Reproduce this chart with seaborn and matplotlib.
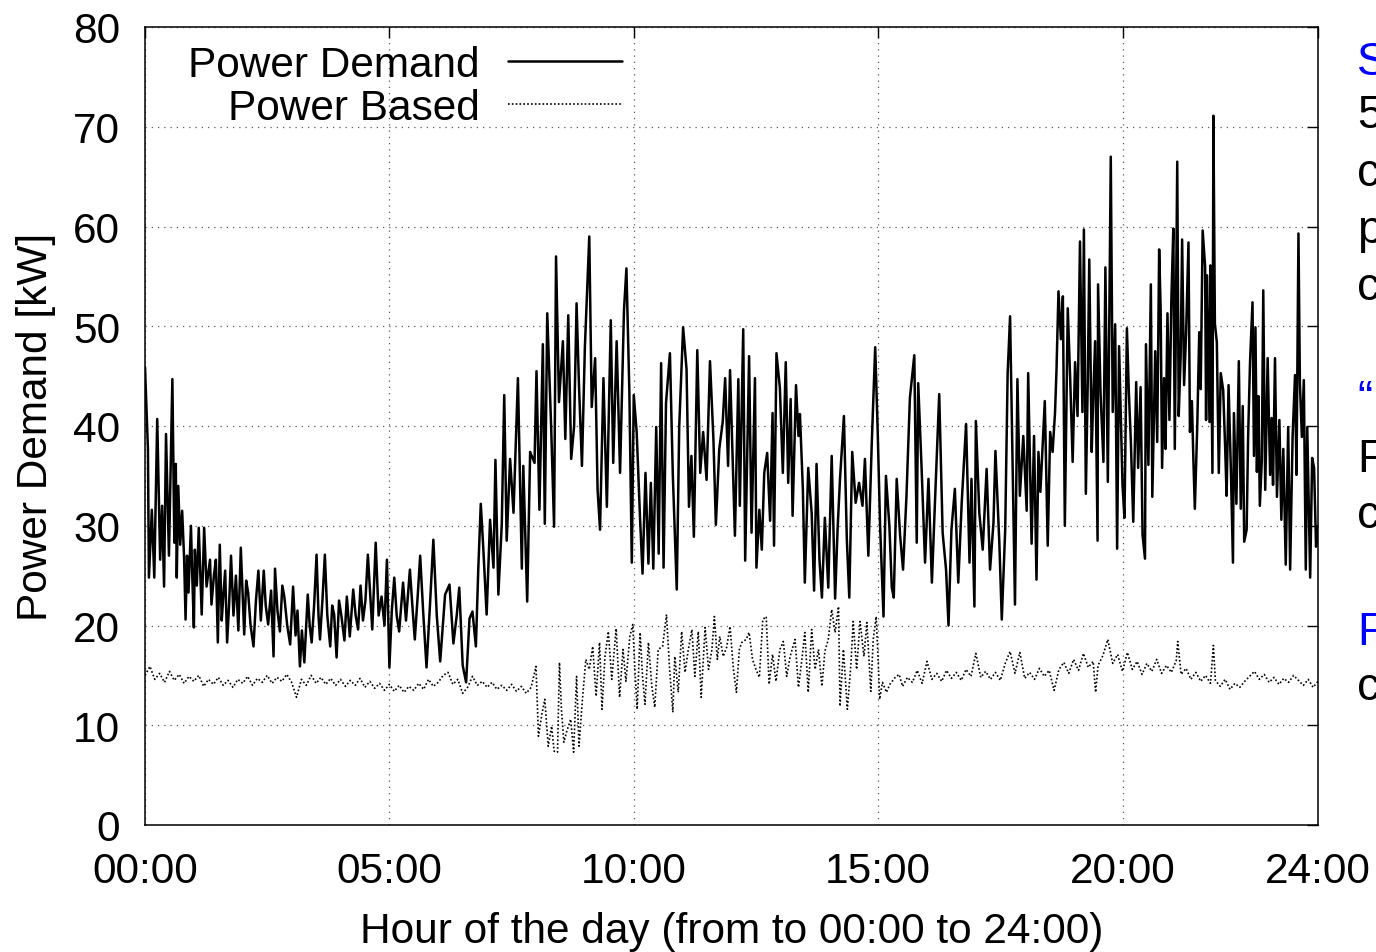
import matplotlib
matplotlib.use("Agg")
import matplotlib.pyplot as plt
import seaborn as sns
import pandas as pd

# ---------------- data ----------------
x_tick_hours = [0, 5, 10, 15, 20, 24]
x_tick_labels = ["00:00", "05:00", "10:00", "15:00", "20:00", "24:00"]
y_ticks = [0, 10, 20, 30, 40, 50, 60, 70, 80]

# Power Demand [kW] : (hour, kW)
demand_00_06 = [
    (0.00, 45.9), (0.06, 37.7), (0.08, 24.8), (0.14, 31.6), (0.19, 24.8), (0.25, 40.7),
    (0.31, 26.6), (0.35, 32.0), (0.39, 23.9), (0.43, 39.2), (0.49, 27.0), (0.53, 36.8),
    (0.56, 44.7), (0.60, 28.3), (0.63, 36.2), (0.65, 24.8), (0.68, 34.0), (0.72, 28.1),
    (0.76, 31.5), (0.80, 26.8), (0.83, 20.6), (0.86, 27.0), (0.89, 23.3), (0.94, 30.0),
    (0.97, 24.5), (1.00, 19.8), (1.02, 27.6), (1.06, 24.0), (1.10, 29.8), (1.16, 21.1),
    (1.21, 29.8), (1.26, 23.9), (1.33, 26.6), (1.36, 22.1), (1.41, 25.0), (1.45, 26.6),
    (1.49, 18.3), (1.53, 28.1), (1.57, 20.5), (1.60, 22.8), (1.64, 25.5), (1.68, 18.3),
    (1.72, 22.0), (1.76, 27.0), (1.81, 21.0), (1.86, 25.0), (1.91, 19.5), (1.96, 27.8),
    (2.03, 19.1), (2.07, 24.5), (2.11, 23.3), (2.16, 20.0), (2.22, 17.9), (2.27, 22.5),
    (2.32, 25.5), (2.37, 20.5), (2.43, 25.5), (2.47, 22.0), (2.52, 20.1), (2.58, 23.5),
    (2.63, 16.9), (2.66, 25.7), (2.71, 21.5), (2.76, 19.4), (2.81, 24.0), (2.85, 22.9),
    (2.91, 20.0), (2.97, 18.1), (3.03, 23.9), (3.08, 19.0), (3.12, 21.5), (3.17, 15.9),
    (3.21, 19.5), (3.26, 16.3), (3.33, 23.1), (3.37, 20.0), (3.41, 18.3), (3.46, 22.0),
    (3.51, 27.1), (3.55, 21.0), (3.58, 18.6), (3.63, 22.5), (3.68, 27.1), (3.73, 21.0),
    (3.79, 17.9), (3.83, 22.0), (3.87, 21.1), (3.92, 16.8), (3.97, 22.5), (4.02, 20.9),
    (4.08, 18.5), (4.13, 22.9), (4.19, 18.9), (4.26, 23.6), (4.31, 21.0), (4.36, 19.6),
    (4.41, 24.0), (4.46, 20.5), (4.51, 22.5), (4.56, 27.1), (4.65, 19.6), (4.72, 28.3),
    (4.78, 21.0), (4.84, 22.9), (4.90, 20.0), (4.95, 26.6), (5.00, 15.8), (5.05, 21.5),
    (5.10, 24.8), (5.15, 21.0), (5.20, 19.4), (5.28, 24.3), (5.34, 20.5), (5.42, 25.6),
    (5.47, 22.0), (5.52, 18.6), (5.58, 23.0), (5.63, 27.0), (5.69, 21.5), (5.76, 15.8),
    (5.83, 22.0), (5.90, 28.6), (5.97, 21.0), (6.04, 16.4),
]
demand_06_12 = [
    (6.14, 23.1), (6.23, 24.1), (6.31, 18.2), (6.38, 21.1), (6.43, 23.8), (6.50, 16.0),
    (6.57, 14.3), (6.64, 20.7), (6.70, 21.4), (6.77, 17.9), (6.82, 25.8), (6.87, 32.2),
    (6.92, 27.9), (6.99, 21.1), (7.06, 30.6), (7.13, 25.8), (7.17, 36.6), (7.23, 23.1),
    (7.30, 30.2), (7.35, 43.1), (7.40, 28.5), (7.47, 36.7), (7.54, 31.3), (7.63, 44.8),
    (7.71, 25.7), (7.74, 36.0), (7.82, 22.4), (7.88, 37.4), (7.97, 36.3), (8.01, 45.5),
    (8.07, 31.6), (8.14, 48.2), (8.18, 30.2), (8.23, 51.3), (8.31, 39.9), (8.37, 29.9),
    (8.41, 57.0), (8.47, 42.4), (8.55, 48.5), (8.60, 38.7), (8.66, 51.1), (8.72, 36.7),
    (8.78, 40.0), (8.83, 52.3), (8.88, 44.0), (8.94, 36.0), (9.00, 47.9), (9.09, 59.0),
    (9.14, 41.9), (9.21, 46.8), (9.26, 33.6), (9.31, 29.6), (9.38, 44.8), (9.45, 31.9),
    (9.53, 50.6), (9.58, 36.3), (9.65, 48.5), (9.72, 35.3), (9.80, 51.6), (9.85, 55.8),
    (9.91, 43.5), (9.96, 26.3), (10.00, 43.1), (10.06, 39.4), (10.13, 30.6), (10.18, 25.2),
    (10.24, 35.3), (10.30, 26.2), (10.35, 34.3), (10.40, 25.7), (10.46, 39.9), (10.51, 27.2),
    (10.56, 46.3), (10.61, 25.8), (10.66, 42.3), (10.74, 47.3), (10.80, 35.0), (10.88, 23.6),
    (10.93, 39.9), (11.01, 49.9), (11.08, 45.7), (11.13, 31.9), (11.18, 37.0), (11.23, 28.9),
    (11.30, 47.6), (11.36, 35.3), (11.42, 39.4), (11.49, 34.6), (11.56, 46.5), (11.63, 38.7),
    (11.68, 30.1), (11.75, 37.7), (11.82, 40.4), (11.87, 44.8), (11.93, 36.0), (11.97, 45.6),
]
demand_12_18 = [
    (12.07, 29.0), (12.14, 44.7), (12.17, 32.0), (12.24, 49.7), (12.28, 26.5), (12.34, 41.7),
    (12.36, 47.0), (12.41, 29.3), (12.48, 44.8), (12.51, 25.8), (12.57, 31.6), (12.62, 27.6),
    (12.67, 35.3), (12.73, 37.3), (12.79, 30.5), (12.84, 41.3), (12.87, 28.0), (12.92, 47.3),
    (12.99, 43.8), (13.05, 35.3), (13.11, 46.4), (13.16, 34.3), (13.21, 42.7), (13.25, 31.0),
    (13.32, 44.1), (13.37, 39.0), (13.40, 41.2), (13.46, 33.7), (13.50, 24.3), (13.57, 35.8),
    (13.64, 31.3), (13.69, 23.5), (13.74, 36.2), (13.80, 26.6), (13.85, 22.8), (13.91, 30.8),
    (13.98, 23.8), (14.05, 37.0), (14.12, 22.7), (14.17, 29.6), (14.22, 34.7), (14.30, 41.0),
    (14.36, 28.6), (14.41, 22.8), (14.47, 37.4), (14.54, 32.3), (14.61, 34.3), (14.68, 32.0),
    (14.73, 36.7), (14.80, 27.0), (14.87, 38.3), (14.94, 47.9), (14.99, 39.7), (15.04, 30.0),
    (15.11, 20.9), (15.16, 35.0), (15.23, 30.0), (15.28, 23.8), (15.32, 22.8), (15.38, 34.7),
    (15.45, 29.0), (15.51, 25.6), (15.58, 33.0), (15.65, 42.8), (15.74, 47.1), (15.79, 28.3),
    (15.82, 44.3), (15.89, 35.7), (15.96, 26.3), (16.03, 34.7), (16.10, 24.3), (16.16, 32.0),
    (16.25, 43.2), (16.32, 29.3), (16.39, 25.6), (16.44, 20.0), (16.50, 29.6), (16.57, 33.7),
    (16.64, 24.3), (16.71, 32.3), (16.80, 40.2), (16.87, 26.3), (16.91, 34.7), (16.97, 21.9),
    (17.00, 40.5), (17.07, 31.3), (17.14, 27.6), (17.22, 35.7), (17.29, 25.6), (17.36, 30.3),
    (17.40, 37.5), (17.48, 28.3), (17.53, 20.6), (17.60, 29.6), (17.65, 45.3), (17.70, 51.0),
    (17.75, 36.3), (17.80, 22.1), (17.85, 44.7), (17.90, 33.0), (17.97, 39.0),
]
demand_18_20 = [
    (18.04, 31.5), (18.07, 45.3), (18.14, 28.2), (18.19, 39.0), (18.24, 24.6), (18.28, 37.4),
    (18.32, 33.4), (18.41, 42.5), (18.47, 28.0), (18.52, 39.4), (18.57, 37.4), (18.62, 41.4),
    (18.65, 45.7), (18.69, 53.5), (18.74, 48.7), (18.78, 53.0), (18.82, 30.0), (18.88, 51.8),
    (18.93, 44.7), (18.98, 36.4), (19.03, 46.4), (19.08, 41.0), (19.13, 58.5), (19.18, 41.4),
    (19.21, 59.7), (19.25, 33.2), (19.29, 44.7), (19.32, 56.7), (19.37, 37.4), (19.40, 42.7),
    (19.44, 48.5), (19.49, 28.5), (19.50, 54.2), (19.55, 43.4), (19.61, 36.4), (19.65, 55.9),
    (19.70, 34.4), (19.76, 67.0), (19.80, 41.4), (19.85, 50.2), (19.89, 27.7), (19.93, 48.0),
]
demand_20_24 = [
    (20.00, 34.1), (20.04, 30.8), (20.09, 49.8), (20.13, 43.4), (20.17, 38.6), (20.22, 30.4),
    (20.28, 44.4), (20.32, 35.8), (20.37, 43.9), (20.41, 29.1), (20.46, 26.7), (20.48, 48.2),
    (20.53, 36.1), (20.58, 54.2), (20.61, 32.9), (20.67, 47.5), (20.71, 38.4), (20.75, 57.7),
    (20.78, 51.8), (20.81, 35.8), (20.85, 44.8), (20.88, 37.7), (20.92, 51.3), (20.96, 40.6),
    (21.00, 52.7), (21.04, 59.8), (21.07, 37.7), (21.12, 66.5), (21.15, 41.0), (21.19, 47.0),
    (21.22, 58.7), (21.26, 44.1), (21.30, 49.1), (21.35, 58.4), (21.38, 39.4), (21.42, 42.5),
    (21.45, 36.7), (21.48, 31.7), (21.53, 40.1), (21.57, 49.4), (21.60, 43.7), (21.64, 59.6),
    (21.69, 56.0), (21.71, 40.6), (21.73, 55.1), (21.78, 40.4), (21.80, 56.1), (21.84, 35.3),
    (21.86, 71.1), (21.89, 50.3), (21.93, 48.4), (21.97, 35.3), (22.01, 45.3), (22.06, 43.6),
    (22.10, 37.9), (22.13, 33.0), (22.17, 44.1), (22.22, 35.1), (22.26, 26.3), (22.28, 41.3),
    (22.33, 32.2), (22.38, 46.5), (22.42, 31.7), (22.46, 42.0), (22.49, 28.4), (22.54, 29.6),
    (22.57, 38.9), (22.61, 46.5), (22.66, 52.4), (22.69, 37.0), (22.72, 49.9), (22.75, 35.4),
    (22.78, 43.0), (22.81, 32.0), (22.85, 36.5), (22.88, 53.6), (22.92, 33.6), (22.97, 46.8),
    (23.02, 35.1), (23.05, 40.8), (23.08, 34.1), (23.12, 46.8), (23.16, 32.9), (23.21, 40.6),
    (23.25, 30.6), (23.29, 37.7), (23.34, 26.1), (23.39, 39.9), (23.43, 25.6), (23.48, 38.9),
    (23.53, 45.1), (23.56, 35.1), (23.60, 59.3), (23.63, 44.2), (23.67, 38.9), (23.71, 44.6),
    (23.75, 25.6), (23.78, 39.9), (23.84, 24.8), (23.88, 36.8), (23.92, 35.8), (23.96, 27.9),
    (24.00, 30.0),
]

# Power Based [kW] : (hour, kW)
based_00_08 = [
    (0.0, 15.0), (0.1, 15.9), (0.2, 14.6), (0.3, 15.2), (0.4, 14.3), (0.5, 15.4), (0.6, 14.5),
    (0.7, 15.1), (0.8, 14.2), (0.9, 14.9), (1.0, 14.4), (1.1, 15.0), (1.2, 13.9), (1.3, 14.6),
    (1.4, 14.1), (1.5, 14.8), (1.6, 14.0), (1.7, 14.5), (1.8, 13.8), (1.9, 14.6), (2.0, 14.2),
    (2.1, 14.9), (2.2, 14.0), (2.3, 14.7), (2.4, 14.3), (2.5, 15.0), (2.6, 14.2), (2.7, 14.8),
    (2.8, 14.4), (2.9, 15.1), (3.0, 14.3), (3.1, 12.8), (3.2, 14.6), (3.3, 14.0), (3.4, 15.0),
    (3.5, 14.2), (3.6, 14.8), (3.7, 14.1), (3.8, 14.7), (3.9, 14.0), (4.0, 14.6), (4.1, 13.9),
    (4.2, 14.5), (4.3, 14.0), (4.4, 14.7), (4.5, 13.8), (4.6, 14.4), (4.7, 13.7), (4.8, 14.2),
    (4.9, 13.5), (5.0, 14.1), (5.1, 13.4), (5.2, 14.0), (5.3, 13.3), (5.4, 13.9), (5.5, 13.5),
    (5.6, 14.2), (5.7, 13.6), (5.8, 14.6), (5.9, 13.9), (6.0, 14.3), (6.1, 15.0), (6.2, 15.3),
    (6.3, 14.1), (6.4, 14.6), (6.5, 13.2), (6.6, 13.8), (6.7, 14.9), (6.8, 14.0), (6.9, 14.4),
    (7.0, 13.8), (7.1, 14.3), (7.2, 13.6), (7.3, 14.0), (7.4, 13.5), (7.5, 14.1), (7.6, 13.4),
    (7.7, 13.9), (7.8, 13.2), (7.9, 13.8),
]
based_08_15 = [
    (8.00, 15.9), (8.05, 8.9), (8.12, 11.1), (8.18, 12.6), (8.25, 7.9), (8.32, 9.9),
    (8.37, 7.4), (8.44, 7.3), (8.48, 16.3), (8.52, 11.6), (8.57, 8.3), (8.63, 9.4),
    (8.71, 10.6), (8.77, 7.3), (8.83, 14.9), (8.88, 7.9), (8.95, 12.6), (9.02, 16.6),
    (9.09, 15.6), (9.16, 17.9), (9.23, 12.9), (9.30, 18.3), (9.35, 11.6), (9.41, 16.8),
    (9.48, 19.4), (9.55, 14.6), (9.64, 19.7), (9.71, 12.8), (9.78, 17.6), (9.84, 14.4),
    (9.92, 18.9), (9.98, 20.1), (10.02, 15.9), (10.07, 11.6), (10.13, 19.3), (10.18, 14.9),
    (10.23, 12.1), (10.30, 18.3), (10.37, 13.9), (10.43, 11.8), (10.50, 17.6), (10.59, 17.9),
    (10.67, 21.1), (10.73, 15.9), (10.80, 11.3), (10.84, 16.9), (10.91, 13.3), (10.98, 19.4),
    (11.05, 15.3), (11.11, 17.4), (11.19, 19.6), (11.25, 14.9), (11.32, 19.4), (11.38, 12.8),
    (11.46, 19.8), (11.53, 15.6), (11.60, 17.6), (11.65, 20.9), (11.71, 16.6), (11.76, 18.9),
    (11.83, 16.9), (11.90, 17.8), (11.97, 19.9), (12.04, 15.6), (12.10, 13.3), (12.16, 17.6),
    (12.21, 18.3), (12.30, 18.6), (12.36, 19.3), (12.43, 16.6), (12.50, 15.6), (12.57, 14.8),
    (12.64, 20.6), (12.71, 20.9), (12.77, 14.1), (12.84, 17.1), (12.91, 14.4), (12.99, 17.6),
    (13.06, 18.4), (13.13, 14.9), (13.20, 16.9), (13.30, 18.6), (13.37, 13.8), (13.44, 16.6),
    (13.50, 19.3), (13.57, 13.3), (13.64, 19.6), (13.71, 15.6), (13.78, 17.6), (13.85, 13.9),
    (13.91, 17.4), (13.98, 18.6), (14.05, 21.6), (14.12, 19.3), (14.19, 21.9), (14.22, 11.9),
    (14.29, 17.6), (14.37, 11.6), (14.44, 15.9), (14.49, 20.4), (14.56, 15.6), (14.63, 20.4),
    (14.71, 16.9), (14.77, 20.3), (14.85, 13.4), (14.90, 18.6), (14.96, 20.9),
]
based_15_24 = [
    (15.00, 16.6), (15.03, 12.6), (15.09, 14.3), (15.17, 13.3), (15.24, 14.1), (15.35, 14.8),
    (15.43, 15.1), (15.5, 13.9), (15.6, 14.8), (15.7, 14.3), (15.8, 15.5), (15.9, 14.2),
    (16.0, 16.4), (16.1, 14.6), (16.2, 15.2), (16.3, 14.4), (16.4, 15.5), (16.5, 14.7),
    (16.6, 15.3), (16.7, 14.5), (16.8, 15.6), (16.9, 14.9), (17.0, 17.2), (17.1, 14.8),
    (17.2, 15.4), (17.3, 14.6), (17.4, 15.3), (17.5, 14.5), (17.6, 16.2), (17.7, 17.4),
    (17.8, 15.2), (17.9, 17.3), (18.0, 14.7), (18.1, 15.3), (18.2, 14.6), (18.3, 15.7),
    (18.4, 14.9), (18.5, 15.5), (18.6, 13.5), (18.7, 15.6), (18.8, 16.3), (18.9, 15.2),
    (19.0, 16.6), (19.1, 15.5), (19.2, 17.2), (19.3, 15.8), (19.4, 16.4), (19.45, 13.3),
    (19.5, 16.0), (19.6, 17.0), (19.7, 18.6), (19.8, 16.2), (19.9, 17.1), (20.0, 15.4),
    (20.1, 17.3), (20.2, 15.6), (20.3, 16.4), (20.4, 15.1), (20.5, 16.2), (20.6, 15.4),
    (20.7, 16.6), (20.8, 15.2), (20.9, 16.0), (21.0, 15.3), (21.1, 16.5), (21.13, 18.4),
    (21.2, 15.1), (21.3, 15.7), (21.4, 14.6), (21.5, 15.3), (21.6, 14.4), (21.7, 15.0),
    (21.8, 14.2), (21.86, 18.0), (21.9, 14.5), (22.0, 13.9), (22.1, 14.6), (22.2, 13.6),
    (22.3, 14.2), (22.4, 13.8), (22.5, 14.4), (22.6, 14.9), (22.7, 15.4), (22.8, 14.6),
    (22.9, 15.1), (23.0, 14.3), (23.1, 14.8), (23.2, 14.1), (23.3, 14.7), (23.4, 14.3),
    (23.5, 15.0), (23.6, 14.5), (23.7, 14.0), (23.8, 14.6), (23.9, 13.8), (24.0, 14.4),
]

# right-hand text fragments (clipped by the page edge, as in the reference)
side_texts = [("S", "#0000ff"), ("5", "black"), ("c", "black"), ("p", "black"), ("c", "black"),
              ("\u201c", "#0000ff"), ("F", "black"), ("c", "black"), ("F", "#0000ff"), ("c", "black")]
side_text_baseline = [75, 128, 186, 243, 300, 413, 472, 528, 645, 700]

# ---------------- build frames ----------------
demand = pd.DataFrame(demand_00_06 + demand_06_12 + demand_12_18 + demand_18_20 + demand_20_24,
                      columns=["hour", "kW"])
based = pd.DataFrame(based_00_08 + based_08_15 + based_15_24, columns=["hour", "kW"])

# ---------------- style ----------------
sns.set_theme(style="white")
plt.rcParams["font.family"] = ["Liberation Sans", "DejaVu Sans"]
FS = 30.5

W, H = 1376, 953
fig = plt.figure(figsize=(W / 100, H / 100), dpi=100)
ax = fig.add_axes([145 / W, 1 - 826 / H, (1318 - 145) / W, (826 - 28) / H])

sns.lineplot(data=demand, x="hour", y="kW", ax=ax, color="black", lw=1.8,
             estimator=None, sort=False, label="Power Demand")
sns.lineplot(data=based, x="hour", y="kW", ax=ax, color="black", lw=1.2,
             estimator=None, sort=False, label="Power Based", linestyle=(0, (1, 1.3)))

ax.set_xlim(0, 24)
ax.set_ylim(0, 80)
ax.set_xticks(x_tick_hours)
ax.set_xticklabels(x_tick_labels)
ax.set_yticks(y_ticks)
ax.tick_params(axis="both", which="major", direction="in", length=8, width=1.0,
               top=True, right=True, labelsize=FS, colors="black")
ax.tick_params(axis="x", pad=19)
ax.tick_params(axis="y", pad=18)

ax.grid(True, color="0.35", linestyle=(0, (1, 4)), lw=0.9)
for s in ax.spines.values():
    s.set_visible(True)
    s.set_color("black")
    s.set_linewidth(1.1)

ax.set_xlabel("Hour of the day (from to 00:00 to 24:00)", fontsize=FS, labelpad=14, color="black")
ax.set_ylabel("Power Demand [kW]", fontsize=FS, labelpad=12, color="black")

leg = ax.legend(loc="upper right", bbox_to_anchor=((622 - 145) / 1173, 0.978),
                markerfirst=False, frameon=False, fontsize=FS, handlelength=2.7,
                handletextpad=0.66, labelspacing=0.08, borderpad=0, borderaxespad=0)
for t in leg.get_texts():
    t.set_color("black")

for (txt, col), yy in zip(side_texts, side_text_baseline):
    fig.text(1357 / W, 1 - yy / H, txt, color=col, fontsize=33, va="baseline", ha="left")

fig.savefig("out.png", dpi=100, facecolor="white")
